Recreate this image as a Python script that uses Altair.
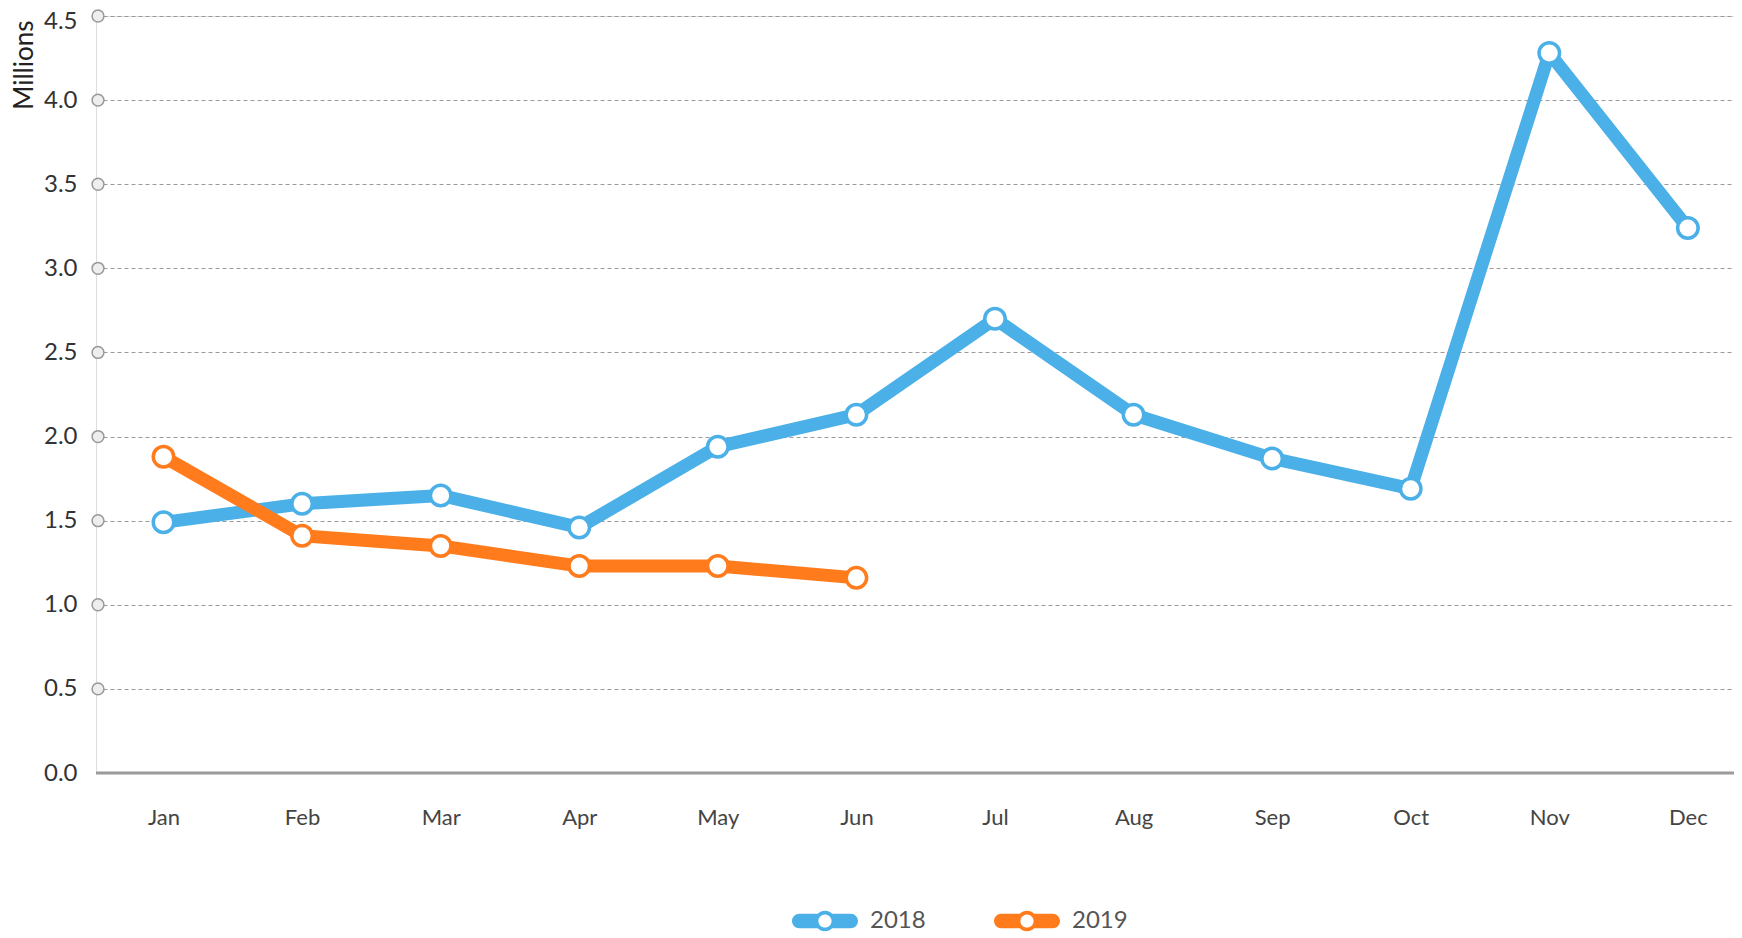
import altair as alt
import pandas as pd

months = ["Jan", "Feb", "Mar", "Apr", "May", "Jun", "Jul", "Aug", "Sep", "Oct", "Nov", "Dec"]
vals_2018 = [1.49, 1.60, 1.65, 1.46, 1.94, 2.13, 2.70, 2.13, 1.87, 1.69, 4.28, 3.24]
vals_2019 = [1.88, 1.41, 1.35, 1.23, 1.23, 1.16]
series = ["2018", "2019"]
colors = ["#4AB0E7", "#FF7B1C"]
y_ticks = [0.0, 0.5, 1.0, 1.5, 2.0, 2.5, 3.0, 3.5, 4.0, 4.5]

rows = []
for m, v in zip(months, vals_2018):
    rows.append({"month": m, "value": v, "year": "2018"})
for m, v in zip(months, vals_2019):
    rows.append({"month": m, "value": v, "year": "2019"})
df = pd.DataFrame(rows)
ticks_df = pd.DataFrame({"t": [t for t in y_ticks if t > 0]})

FONT = "Lato"

x_scale = alt.Scale(type="point", domain=months, padding=0.41, align=0.594)
x_enc = alt.X("month:N", sort=months, scale=x_scale,
              axis=alt.Axis(title=None, labelFontSize=22, labelColor="#444", labelPadding=34,
                            labelAlign="center", labelBaseline="top",
                            ticks=False, domain=False, grid=False, labelFont=FONT, labelAngle=0))
y_scale = alt.Scale(domain=[0, 4.5], nice=False, zero=True)
y_enc = alt.Y("value:Q", scale=y_scale,
              axis=alt.Axis(title="Millions", values=y_ticks, format=".1f", labelFontSize=24,
                            labelColor="#333", labelPadding=19, ticks=False, domain=False,
                            labelOffset={"condition": {"test": "datum.value >= 4.5", "value": 5}, "value": 0},
                            grid=True, gridDash=[4, 3], gridColor="#9a9a9a", gridWidth=1.2,
                            labelFont=FONT, titleFont=FONT, titleFontSize=26, titleFontWeight="normal",
                            titleColor="#222", titleAngle=-90, titleAlign="right",
                            titleBaseline="middle", titleX=-72, titleY=4))
stroke_scale = alt.Scale(domain=series, range=colors)

pill = ("M -0.78 -0.22 H 0.78 A 0.22 0.22 0 0 1 0.78 0.22 H -0.78 A 0.22 0.22 0 0 1 -0.78 -0.22 Z "
        "M 0.31 0 A 0.31 0.31 0 1 1 -0.31 0 A 0.31 0.31 0 1 1 0.31 0 Z "
        "M 0.2 0 A 0.2 0.2 0 1 0 -0.2 0 A 0.2 0.2 0 1 0 0.2 0 Z "
        "M 0.2 0 A 0.2 0.2 0 1 0 -0.2 0 A 0.2 0.2 0 1 0 0.2 0 Z")

base = alt.Chart(df)

dummy = base.mark_point(filled=True, size=1, opacity=1).encode(
    x=alt.X("month:N", sort=months, scale=x_scale), y=alt.Y("value:Q"),
    fill=alt.Fill("year:N", scale=stroke_scale,
                  legend=alt.Legend(title=None, orient="none", direction="horizontal",
                                    legendX=696, legendY=872, symbolType=pill, symbolSize=4356,
                                    symbolStrokeWidth=0, labelFontSize=24, labelColor="#555",
                                    labelFont=FONT, labelOffset=12, columnPadding=68, padding=0,
                                    symbolOpacity=1))
)

lines = base.mark_line(strokeWidth=13, strokeJoin="round", strokeCap="round").encode(
    x=x_enc, y=y_enc,
    stroke=alt.Stroke("year:N", scale=stroke_scale, legend=None),
    detail="year:N",
)

points = base.mark_point(filled=False, fill="white", fillOpacity=1, size=420, strokeWidth=3.5, opacity=1).encode(
    x=alt.X("month:N", sort=months, scale=x_scale), y=alt.Y("value:Q"),
    stroke=alt.Stroke("year:N", scale=stroke_scale, legend=None),
)

grid_dots = alt.Chart(ticks_df).mark_point(filled=False, fill="#eeeeee", fillOpacity=1, stroke="#999",
                                           strokeWidth=1.5, size=140, opacity=1).encode(
    x=alt.value(2), y=alt.Y("t:Q", scale=y_scale)
)

zero_rule = alt.Chart(pd.DataFrame({"z": [0.0]})).mark_rule(color="#9a9a9a", strokeWidth=3).encode(
    y=alt.Y("z:Q", scale=y_scale)
)

chart = alt.layer(zero_rule, grid_dots, dummy, lines, points).resolve_scale(
    fill="independent", stroke="shared"
).properties(
    width=1638, height=757,
    autosize=alt.AutoSizeParams(type="none"),
    padding={"left": 88, "top": 8, "right": 0, "bottom": 160},
).configure_view(stroke=None).configure(font=FONT)

chart.save("out.html", embed_options={"renderer": "svg", "actions": False})
